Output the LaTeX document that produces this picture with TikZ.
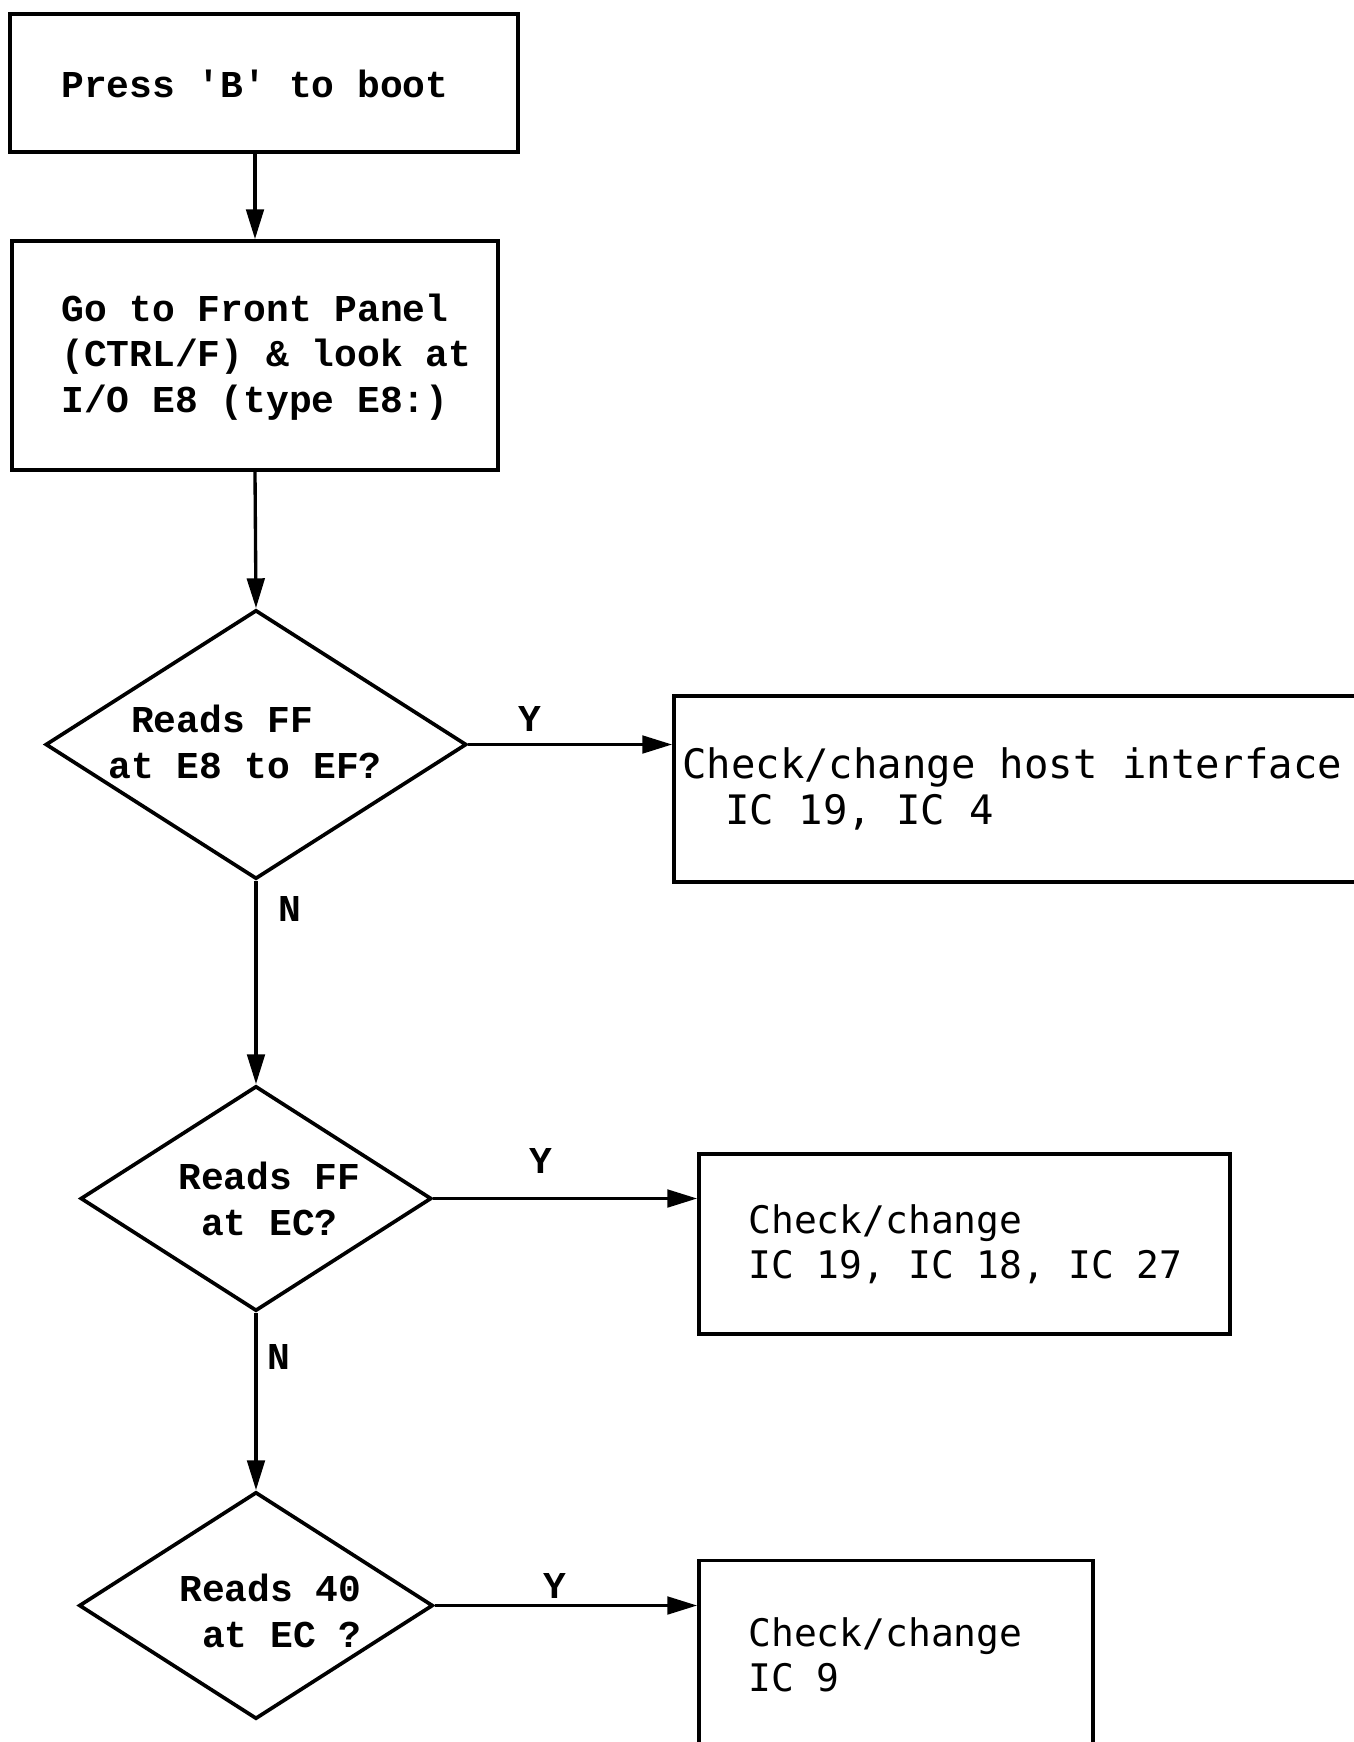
\documentclass[tikz,border=0pt]{standalone}
\usepackage{fontspec}
\setmonofont{Liberation Mono}
\newfontfamily\lgfont{DejaVu Sans Mono}
\usetikzlibrary{shapes.geometric,arrows.meta}
\newdimen\pxu \pxu=0.02cm
\begin{document}
\begin{tikzpicture}[x=0.02cm,y=-0.02cm,
  box/.style={draw,line width=2.1pt,rectangle,inner sep=0},
  dia/.style={draw,line width=2.1pt,diamond,inner sep=0},
  txt/.style={inner sep=0,anchor=west,align=left,font=\fontsize{21.6}{25.9}\selectfont\ttfamily\bfseries},
  dtxt/.style={inner sep=0,anchor=west,align=left,font=\fontsize{21.6}{25.9}\selectfont\ttfamily\bfseries},
  ltxt/.style={inner sep=0,anchor=west,align=left,font=\fontsize{21.6}{25.3}\selectfont\lgfont},
  yn/.style={inner sep=0,font=\fontsize{21.6}{25.9}\selectfont\ttfamily\bfseries},
  conn/.style={line width=1.9pt,-{Triangle[length=17pt,width=10pt]}}
]
\useasboundingbox (0,0) rectangle (1354,1742);
\clip (0,0) rectangle (1354,1742);

% boxes
\node[box,minimum width=508\pxu,minimum height=138\pxu] (b1) at (264,83) {};
\node[box,minimum width=486\pxu,minimum height=229\pxu] (b2) at (255,355.5) {};
\node[box,minimum width=706\pxu,minimum height=186\pxu] (b3) at (1027,789) {};
\node[box,minimum width=531\pxu,minimum height=180\pxu] (b4) at (964.5,1244) {};
\node[box,minimum width=394\pxu,minimum height=239\pxu] (b5) at (896,1680) {};

% diamonds
\node[dia,minimum width=421\pxu,minimum height=269\pxu] (d1) at (256,744.5) {};
\node[dia,minimum width=351\pxu,minimum height=225\pxu] (d2) at (256,1198.5) {};
\node[dia,minimum width=354\pxu,minimum height=227\pxu] (d3) at (256,1605.5) {};

% texts
\node[txt] (t1) at (61,84) {Press 'B' to boot};
\node[txt] (t2) at (61,357) {Go to Front Panel\\(CTRL/F) \& look at\\I/O E8 (type E8:)};
\node[dtxt] (t3) at (108,742) {\hphantom{a}Reads FF\\at E8 to EF?};
\node[dtxt] (t4) at (178,1199) {Reads FF\\\hphantom{a}at EC?};
\node[dtxt] (t5) at (179,1611) {Reads 40\\\hphantom{a}at EC ?};
\node[ltxt,font=\fontsize{23.1}{26.2}\selectfont\lgfont] (t6) at (682,789) {Check/change host interface\\\hspace*{24.5pt}IC 19, IC 4};
\node[ltxt] (t7) at (748,1244) {Check/change\\IC 19, IC 18, IC 27};
\node[ltxt] (t8) at (748,1655) {Check/change\\IC 9};

% connectors
\draw[conn] (b1.south -| b2.north) -- (b2.north);
\draw[conn] (b2.south) -- (d1.north);
\draw[conn] (d1.east) -- (d1.east -| b3.west);
\draw[conn] (d1.south) -- (d2.north);
\draw[conn] (d2.east) -- (d2.east -| b4.west);
\draw[conn] (d2.south) -- (d3.north);
\draw[conn] (d3.east) -- (d3.east -| b5.west);

% labels
\node[yn] (y1) at (530,719) {Y};
\node[yn] (y2) at (541,1161) {Y};
\node[yn] (y3) at (555,1586) {Y};
\node[yn] (n1) at (290,909) {N};
\node[yn] (n2) at (279,1357) {N};
\end{tikzpicture}
\end{document}
